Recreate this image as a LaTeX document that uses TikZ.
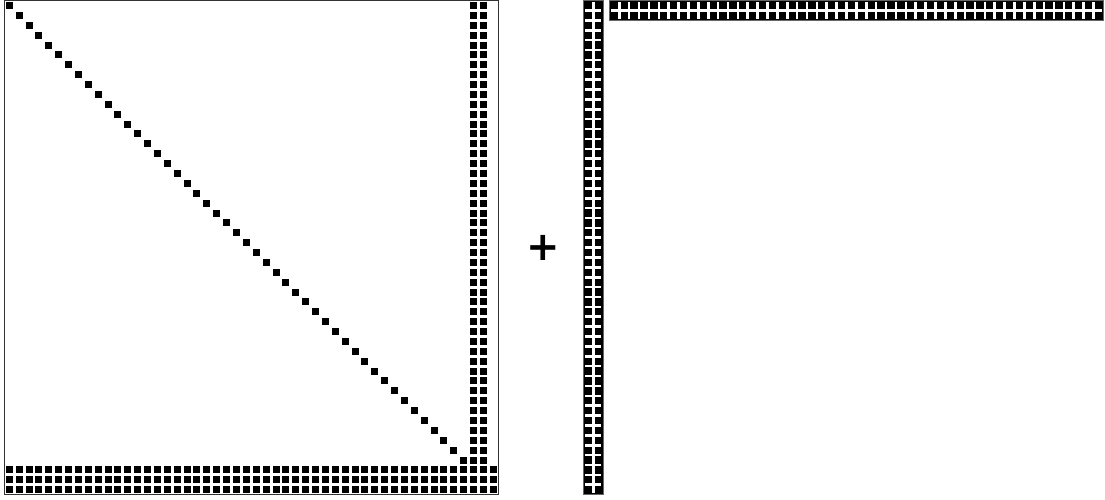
\documentclass[tikz,border=0pt]{standalone}
\usepackage{fontspec}
\newfontfamily\plusfont{DejaVu Sans}
\begin{document}
\begin{tikzpicture}[x=1pt,y=-1pt,
  sqcell/.style={fill=black},
  mframe/.style={draw=black!80,line width=1.3pt},
  blockfill/.style={fill=black,draw=black!60,line width=0.6pt},
  gapline/.style={draw=white,line width=2.6pt},
  plussign/.style={inner sep=0pt,font=\plusfont\bfseries\fontsize{40}{40}\selectfont}]
\useasboundingbox (0,0) rectangle (1105,499);
\def\cs{9.88}
\def\sq{7.0}
\newcommand\mtxcell[4]{\fill[sqcell] ({#1+(#3+0.5)*\cs-\sq/2},{#2+(#4+0.5)*\cs-\sq/2}) rectangle ++(\sq,\sq);}
% ---- left matrix ----
\def\lx{4.3}\def\ly{0.6}
\foreach \i in {0,...,46} {\mtxcell{\lx}{\ly}{\i}{\i}}
\foreach \r in {0,...,46} {\mtxcell{\lx}{\ly}{47}{\r}\mtxcell{\lx}{\ly}{48}{\r}}
\foreach \r in {47,48,49} {\foreach \c in {0,...,49} {\mtxcell{\lx}{\ly}{\c}{\r}}}
\draw[mframe] (\lx,\ly) rectangle ({\lx+50*\cs},{\ly+50*\cs});
% ---- plus ----
\node[plussign] (plus) at (543.5,248.3) {+};
% ---- right column (2 x 50) ----
\def\cx{583.4}\def\cy{0.6}
\draw[blockfill] (\cx,\cy) rectangle ({\cx+2*\cs},{\cy+50*\cs});
\draw[gapline] ({\cx+\cs},{\cy+1.8}) -- ({\cx+\cs},{\cy+50*\cs-1.8});
\foreach \k in {1,...,49} {\draw[gapline] ({\cx+1.8},{\cy+\k*\cs}) -- ({\cx+2*\cs-1.8},{\cy+\k*\cs});}
% ---- top bar (50 x 2) ----
\def\bx{609.4}\def\by{0.6}
\draw[blockfill] (\bx,\by) rectangle ({\bx+50*\cs},{\by+2*\cs});
\draw[gapline] ({\bx+1.8},{\by+\cs}) -- ({\bx+50*\cs-1.8},{\by+\cs});
\foreach \k in {1,...,49} {\draw[gapline] ({\bx+\k*\cs},{\by+1.8}) -- ({\bx+\k*\cs},{\by+2*\cs-1.8});}
\end{tikzpicture}
\end{document}
